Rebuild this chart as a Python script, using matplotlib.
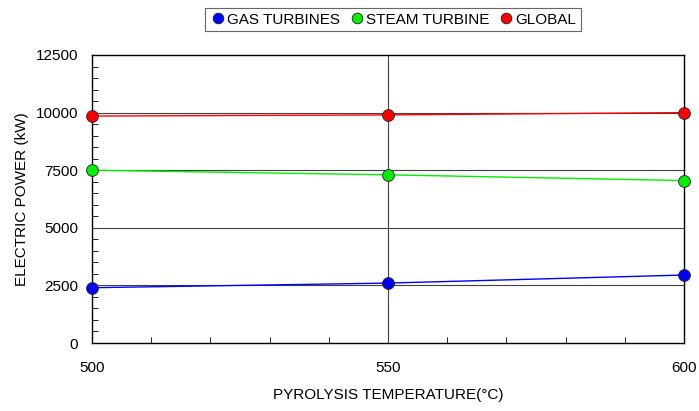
import matplotlib
matplotlib.use('Agg')
import matplotlib.pyplot as plt
from matplotlib.ticker import MultipleLocator

plt.rcParams['font.family'] = ['Liberation Sans', 'DejaVu Sans']

# data
temps = [500, 550, 600]
gas_turbines = [2400, 2600, 2950]
steam_turbine = [7500, 7300, 7050]
global_power = [9850, 9900, 10000]

fig = plt.figure(figsize=(6.99, 4.11), dpi=100)
ax = fig.add_axes([92 / 699, 1 - 343 / 411, (684 - 92) / 699, (343 - 55) / 411])

# grid: horizontal at every major y tick, vertical only at 550
for yv in [2500, 5000, 7500, 10000]:
    ax.axhline(yv, color='#404040', linewidth=0.8, zorder=1)
ax.axvline(550, color='#404040', linewidth=0.8, zorder=1)

series = [
    ('GAS TURBINES', gas_turbines, '#0000ff'),
    ('STEAM TURBINE', steam_turbine, '#00ee00'),
    ('GLOBAL', global_power, '#ff0000'),
]
for name, vals, col in series:
    ax.plot(temps, vals, color=col, linewidth=1.0, zorder=2)
    ax.plot(temps, vals, linestyle='none', marker='o', markersize=8.5,
            markerfacecolor=col, markeredgecolor='#202020', markeredgewidth=0.6,
            label=name, zorder=3, clip_on=False)

ax.set_xlim(500, 600)
ax.set_ylim(0, 12500)
ax.xaxis.set_major_locator(MultipleLocator(50))
ax.xaxis.set_minor_locator(MultipleLocator(10))
ax.yaxis.set_major_locator(MultipleLocator(2500))
ax.yaxis.set_minor_locator(MultipleLocator(500))
ax.tick_params(axis='both', which='both', direction='in', labelsize=11, colors='black')
ax.tick_params(axis='x', which='major', length=0, pad=13)
ax.tick_params(axis='x', which='minor', length=4)
ax.tick_params(axis='y', which='major', length=0, pad=10)
ax.tick_params(axis='y', which='minor', length=4)

for sp in ax.spines.values():
    sp.set_linewidth(1.0)
    sp.set_color('black')

ax.set_xlabel('PYROLYSIS TEMPERATURE(°C)', fontsize=11, labelpad=9)
ax.set_ylabel('ELECTRIC POWER (kW)', fontsize=11, labelpad=5)

leg = fig.legend(loc='center', bbox_to_anchor=(393 / 699, 1 - 19.5 / 411), ncol=3,
                 fontsize=11, frameon=True, fancybox=False, edgecolor='#404040',
                 handletextpad=0.1, columnspacing=0.6, handlelength=1.0,
                 borderpad=0.3, markerscale=0.9)
leg.get_frame().set_linewidth(0.8)

fig.savefig('out.png', dpi=100)
